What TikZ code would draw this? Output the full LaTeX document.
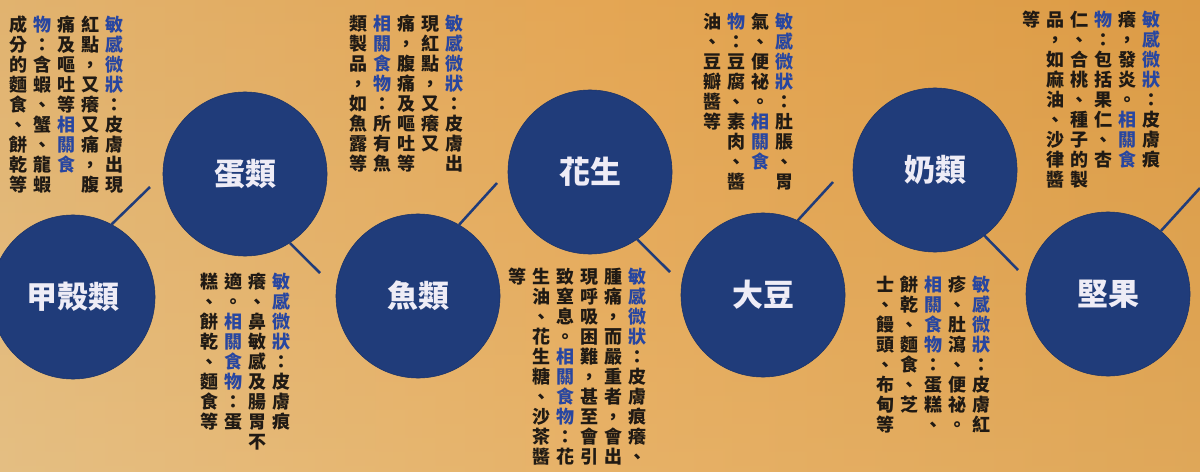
\documentclass[tikz,border=0pt]{standalone}
\usepackage{fontspec}
\newfontfamily\cjk{Noto Sans CJK TC}
\definecolor{navy}{RGB}{32,60,122}
\definecolor{kblue}{RGB}{40,70,160}
\definecolor{kblack}{RGB}{32,26,20}
\definecolor{lbl}{RGB}{238,236,246}
\definecolor{bgA}{RGB}{224,186,126}
\definecolor{bgB}{RGB}{228,166,84}
\definecolor{bgC}{RGB}{216,150,62}
\definecolor{bgP}{RGB}{238,200,140}

\newdimen\vcw \vcw=17.07pt
\newdimen\vch \vch=14.23pt
\def\vcur{kblack}
\def\vbon{\def\vcur{kblue}}
\def\vboff{\def\vcur{kblack}}
\def\vcol#1{\vtop{\offinterlineskip\vboff\vcolA#1\relax}}
\def\vcolA#1{\ifx\relax#1\let\vnext\relax\else\vdo#1\let\vnext\vcolA\fi\vnext}
\def\vdo#1{\ifx\vbon#1\vbon\else\ifx\vboff#1\vboff\else\hbox to\vcw{\hss\vrule height .8\vch depth .2\vch width 0pt\textcolor{\vcur}{#1}\hss}\fi\fi}

\tikzset{
  circ/.style={circle, fill=navy, draw=navy!85!black, line width=0.4pt, minimum size=4.1cm, inner sep=0pt,
    text=lbl, font=\cjk\bfseries\fontsize{22pt}{22pt}\selectfont},
  vtext/.style={anchor=north east, inner sep=0pt, font=\cjk\bfseries\fontsize{12.8pt}{14.2pt}\selectfont},
  conn/.style={draw=navy, line width=1.8pt}
}

\begin{document}
\begin{tikzpicture}[x=0.025cm, y=-0.025cm]
\useasboundingbox (0,0) rectangle (1200,472);
% background
\shade[left color=bgA, right color=bgC, middle color=bgB] (0,0) rectangle (1200,472);
\shade[top color=bgB, bottom color=bgP, opacity=0.35] (0,0) rectangle (1200,472);

% circles
\node[circ] (c1) at (73,297) {甲殼類};
\node[circ] (c2) at (245,174) {蛋類};
\node[circ] (c3) at (418,296) {魚類};
\node[circ] (c4) at (590,172) {花生};
\node[circ] (c5) at (763,295) {大豆};
\node[circ] (c6) at (935,170) {奶類};
\node[circ] (c7) at (1108,294) {堅果};

% connector ends
\coordinate (e1) at (150,187);
\coordinate (e2) at (320,273);
\coordinate (e3) at (497,183);
\coordinate (e4) at (670,272);
\coordinate (e5) at (833,182);
\coordinate (e6) at (1018,270);
\coordinate (e7) at (1200,188);
\draw[conn] (c1.62) -- (e1);
\draw[conn] (c2.-57) -- (e2);
\draw[conn] (c3.60) -- (e3);
\draw[conn] (c4.-55) -- (e4);
\draw[conn] (c5.65) -- (e5);
\draw[conn] (c6.-53) -- (e6);
\draw[conn] (c7.50) -- (e7);

% text blocks
\node[vtext] (t1) at (127,15) {\vcol{成分的麵食、餅乾等}\vcol{\vbon 物\vboff ：含蝦、蟹、龍蝦}\vcol{痛及嘔吐等\vbon 相關食}\vcol{紅點，又癢又痛，腹}\vcol{\vbon 敏感微狀\vboff ：皮膚出現}};
\node[vtext] (t2) at (467,14) {\vcol{類製品，如魚露等}\vcol{\vbon 相關食物\vboff ：所有魚}\vcol{痛，腹痛及嘔吐等}\vcol{現紅點，又癢又}\vcol{\vbon 敏感微狀\vboff ：皮膚出}};
\node[vtext] (t3) at (797,12) {\vcol{油、豆瓣醬等}\vcol{\vbon 物\vboff ：豆腐、素肉、醬}\vcol{氣、便祕。\vbon 相關食}\vcol{\vbon 敏感微狀\vboff ：肚脹、胃}};
\node[vtext] (t4) at (1164,10) {\vcol{等}\vcol{品，如麻油、沙律醬}\vcol{仁、合桃、種子的製}\vcol{\vbon 物\vboff ：包括果仁、杏}\vcol{癢，發炎。\vbon 相關食}\vcol{\vbon 敏感微狀\vboff ：皮膚痕}};
\node[vtext] (t5) at (294,272) {\vcol{糕、餅乾、麵食等}\vcol{適。\vbon 相關食物\vboff ：蛋}\vcol{癢、鼻敏感及腸胃不}\vcol{\vbon 敏感微狀\vboff ：皮膚痕}};
\node[vtext] (t6) at (650,267) {\vcol{等}\vcol{生油、花生糖、沙茶醬}\vcol{致窒息。\vbon 相關食物\vboff ：花}\vcol{現呼吸困難，甚至會引}\vcol{腫痛，而嚴重者，會出}\vcol{\vbon 敏感微狀\vboff ：皮膚痕癢、}};
\node[vtext] (t7) at (994,275) {\vcol{士、饅頭、布甸等}\vcol{餅乾、麵食、芝}\vcol{\vbon 相關食物\vboff ：蛋糕、}\vcol{疹、肚瀉、便祕。}\vcol{\vbon 敏感微狀\vboff ：皮膚紅}};
\end{tikzpicture}
\end{document}
